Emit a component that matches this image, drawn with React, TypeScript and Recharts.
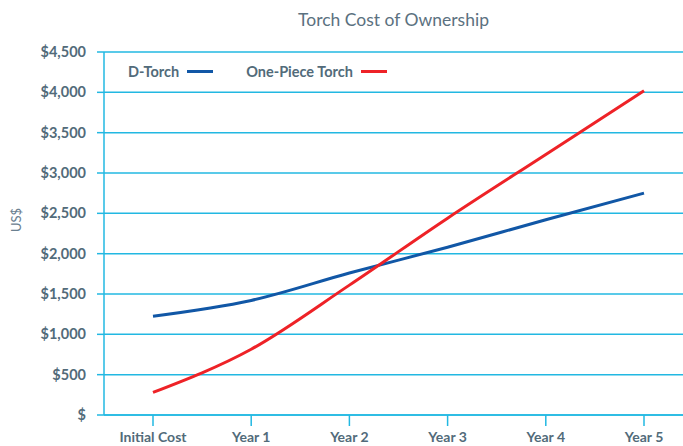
import { CartesianGrid, Line, LineChart, XAxis, YAxis } from "recharts";

const categories = ["Initial Cost", "Year 1", "Year 2", "Year 3", "Year 4", "Year 5"];
const dTorch = [1225, 1420, 1760, 2080, 2420, 2750];
const onePiece = [280, 815, 1610, 2440, 3230, 4020];
const yTicks = [0, 500, 1000, 1500, 2000, 2500, 3000, 3500, 4000, 4500];

const data = categories.map((name, i) => ({ name, dTorch: dTorch[i], onePiece: onePiece[i] }));

const cyan = "#22b8e2";
const textColor = "#526b7a";
const font = "Lato, 'Open Sans', sans-serif";

const fmt = (v: number) => (v === 0 ? "$" : "$" + v.toLocaleString("en-US"));

export default function App() {
  return (
    <div style={{ position: "absolute", left: 0, top: 0, width: 683, height: 446, background: "#fff", fontFamily: font }}>
      <div style={{ position: "absolute", left: 104, width: 579, top: 9, textAlign: "center", fontSize: 17.5, color: "#5b7180" }}>
        Torch Cost of Ownership
      </div>
      <div
        style={{
          position: "absolute",
          left: 4,
          top: 212,
          fontSize: 13,
          color: "#6a8090",
          transform: "rotate(-90deg)",
        }}
      >
        US$
      </div>
      <div style={{ position: "absolute", left: 128, top: 63, display: "flex", alignItems: "center", fontSize: 14.5, fontWeight: 700, color: textColor, zIndex: 2 }}>
        <span>D-Torch</span>
        <span style={{ display: "inline-block", width: 26, height: 3, background: "#1157a6", marginLeft: 8 }} />
        <span style={{ marginLeft: 33 }}>One-Piece Torch</span>
        <span style={{ display: "inline-block", width: 26, height: 3, background: "#ee2227", marginLeft: 8 }} />
      </div>
      <LineChart width={683} height={446} data={data} margin={{ top: 52, right: 0, left: 0, bottom: 0 }}>
        <CartesianGrid vertical={false} stroke={cyan} strokeWidth={1.5} />
        <XAxis
          dataKey="name"
          padding={{ left: 49, right: 39 }}
          height={31}
          stroke={cyan}
          strokeWidth={1.5}
          tickSize={11}
          tickMargin={6}
          tick={{ fill: textColor, fontSize: 14, fontWeight: 700, fontFamily: font }}
          interval={0}
        />
        <YAxis
          width={104}
          domain={[0, 4500]}
          ticks={yTicks}
          tickFormatter={fmt}
          stroke={cyan}
          strokeWidth={1.5}
          tickSize={7}
          tickMargin={11}
          tick={{ fill: textColor, fontSize: 14.5, fontWeight: 700, fontFamily: font }}
          interval={0}
        />
        <Line type="monotone" dataKey="dTorch" stroke="#1157a6" strokeWidth={3} dot={false} isAnimationActive={false} />
        <Line type="monotone" dataKey="onePiece" stroke="#ee2227" strokeWidth={3} dot={false} isAnimationActive={false} />
      </LineChart>
    </div>
  );
}
